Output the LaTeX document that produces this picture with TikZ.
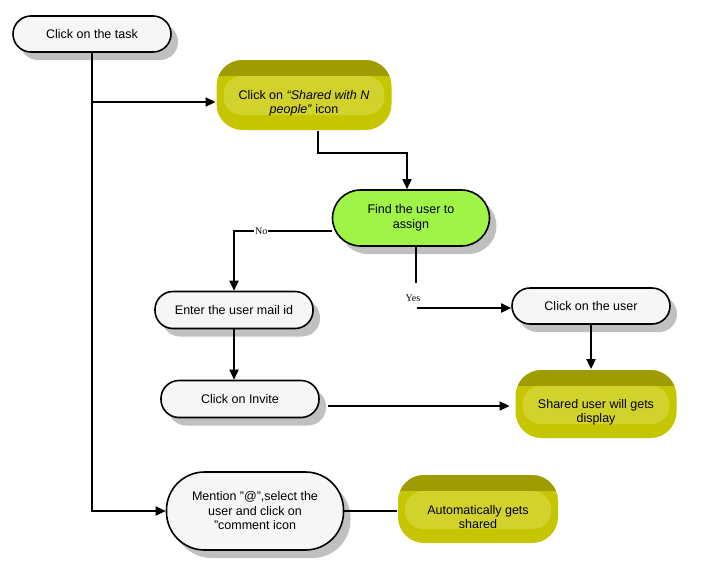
\documentclass[tikz,border=0pt]{standalone}
\usepackage{fontspec}
\setmainfont{Liberation Sans}
\newfontfamily\branchfont{Liberation Serif}
\usetikzlibrary{shadows,arrows.meta}

\definecolor{boxfill}{RGB}{246,246,246}
\definecolor{shadowgray}{RGB}{192,192,192}
\definecolor{findgreen}{RGB}{160,244,72}
\definecolor{ytop}{RGB}{158,156,0}
\definecolor{ybody}{RGB}{198,198,0}
\definecolor{yhigh}{RGB}{210,210,44}

\begin{document}
\begin{tikzpicture}[x=1pt,y=-1pt,line width=1.8pt,>={Triangle[length=10pt,width=9pt]},
  every node/.style={font=\fontsize{12.5}{14.5}\selectfont,align=center},
  stepbox/.style={draw,line width=1.6pt,fill=boxfill,rounded corners=18pt,minimum width=158pt,minimum height=36pt,
    drop shadow={shadow xshift=7pt,shadow yshift=-8pt,fill=shadowgray,opacity=1}},
  yellowbox/.style={fill=ybody,rounded corners=26pt,minimum width=170pt,minimum height=68pt,
    execute at begin node={\rule{0pt}{40pt}},
    path picture={
      \fill[ytop,sharp corners] ([yshift=2pt]path picture bounding box.north west)
        rectangle ([yshift=-16pt]path picture bounding box.north east);
      \fill[yhigh,rounded corners=18pt] ([xshift=7pt,yshift=-16pt]path picture bounding box.north west)
        rectangle ([xshift=-7pt,yshift=-20pt]path picture bounding box.east);
    }},
  branch/.style={font=\branchfont\fontsize{10}{11}\selectfont,fill=white,inner sep=1pt}]

  \useasboundingbox (0,0) rectangle (728,573);

  % boxes
  \node[stepbox] (task) at (92,34) {Click on the task};
  \node[yellowbox,minimum width=175pt,minimum height=70pt] (share) at (304,95)
    {Click on \textit{``Shared with N}\\\textit{people''} icon};
  \node[stepbox,fill=findgreen,minimum width=157pt,minimum height=56pt,rounded corners=28pt] (find) at (411,218)
    {Find the user to\\assign};
  \node[stepbox,minimum height=37pt] (mail) at (234,310) {Enter the user mail id};
  \node[stepbox] (user) at (591,306) {Click on the user};
  \node[stepbox,minimum height=37pt] (invite) at (240,399) {Click on Invite};
  \node[yellowbox,minimum width=161pt] (display) at (596,404) {Shared user will gets\\display};
  \node[stepbox,minimum width=177pt,minimum height=78pt,rounded corners=38pt] (mention) at (255,511)
    {Mention "@",select the\\user and click on\\"comment icon};
  \node[yellowbox,minimum width=160pt] (auto) at (478,509) {Automatically gets\\shared};

  % connectors
  \draw[->] (task.south) |- (mention.west);
  \draw[->] (task.south |- 0,102) -- ([yshift=-7pt]share.west);
  \draw[->] ([xshift=14pt]share.south) -- ++(0,22) -| ([xshift=-4pt]find.north);
  \draw[->] ([yshift=-13pt]find.west) -| node[branch,pos=0.36] {No} (mail.north);
  \coordinate (yesturn) at (417,308);
  \draw ([xshift=5pt]find.south) -- ++(0,36);
  \node[branch] (yes) at (413,298) {Yes};
  \draw[->] (yesturn) -- (yesturn -| user.west);
  \draw[->] (mail.south) -- (mail.south |- invite.north);
  \draw[->] (user.south) -- (user.south |- display.north);
  \draw[->,shorten >=5pt] ([xshift=8pt,yshift=-7pt]invite.east) -- ([yshift=-7pt]invite.east -| display.west);
  \draw (mention.east) -- (mention.east -| auto.west);
\end{tikzpicture}
\end{document}
